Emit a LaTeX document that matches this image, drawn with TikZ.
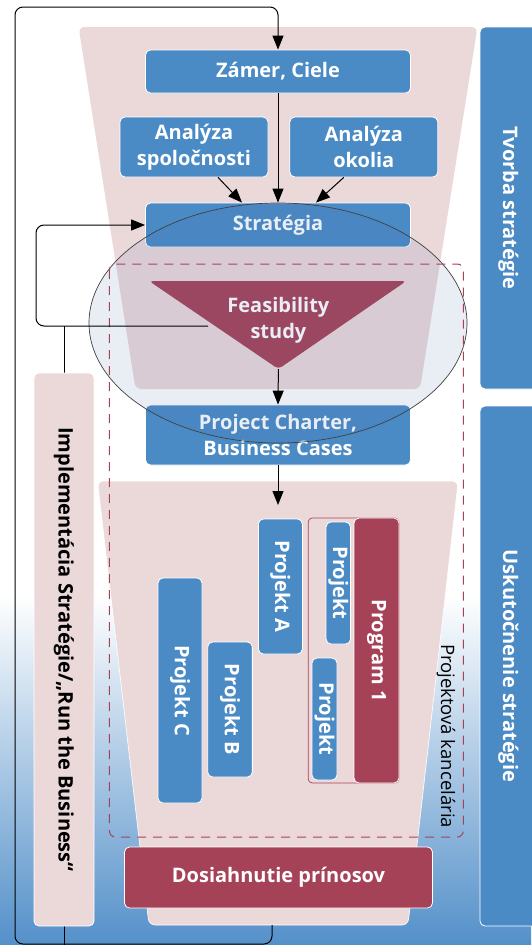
\documentclass[tikz,border=0pt]{standalone}
\usepackage{fontspec}
\setmainfont{Open Sans}
\usetikzlibrary{arrows.meta}
\definecolor{boxblue}{RGB}{74,139,198}
\definecolor{funnelpink}{RGB}{235,217,218}
\definecolor{progred}{RGB}{166,66,88}
\definecolor{bgblue}{RGB}{84,144,201}
\definecolor{ellfill}{RGB}{80,110,170}

\begin{document}
\begin{tikzpicture}[x=1pt,y=-1pt]
\tikzstyle{every node}+=[inner sep=0pt, align=center, font=\bfseries\fontsize{20}{26}\selectfont]
\tikzstyle{bluebox}=[rectangle, rounded corners=5pt, fill=boxblue, draw=white, line width=0.8pt, text=white]
\tikzstyle{redbox}=[bluebox, fill=progred]
\tikzstyle{conn}=[black, line width=1pt, rounded corners=8pt, -{Triangle[length=14pt,width=11pt]}]
\tikzstyle{loopline}=[black, line width=1pt, rounded corners=8pt]
\useasboundingbox (0,0) rectangle (531,945);
% background
\fill[white] (0,0) rectangle (531,945);
\shade[top color=white, bottom color=bgblue] (0,595) rectangle (531,945);
% funnels
\fill[funnelpink, rounded corners=6pt] (78.6,27) -- (477.5,27) -- (420,389) -- (135.5,389) -- cycle;
\fill[funnelpink, draw=white, line width=0.6pt, rounded corners=6pt] (97.5,481) -- (458.2,481) -- (408,925) -- (149,925) -- cycle;
\coordinate (funbot) at (272,925);
\coordinate (fsout) at (208,326);
\coordinate (fork) at (64,326);
\coordinate (apex) at (278.4,369);
% side bars
\draw[loopline] (fork) -- (64,950);
\node[bluebox, rotate=-90, minimum width=362, minimum height=57] (tvorba) at (508.5,208) {Tvorba stratégie};
\node[bluebox, rotate=-90, minimum width=520, minimum height=57] (uskut) at (508.5,666) {Uskutočnenie stratégie};
\node[bluebox, fill=funnelpink, text=black, rotate=-90, minimum width=553, minimum height=60] (impl) at (64,649.5) {Implementácia Stratégie/„Run the Business“};
% boxes
\node[bluebox, minimum width=265, minimum height=43] (zamer) at (278,71.5) {Zámer, Ciele};
\node[bluebox, minimum width=148, minimum height=60] (spol) at (194,147) {Analýza\\spoločnosti};
\node[bluebox, minimum width=148, minimum height=60] (okol) at (363.8,147) {Analýza\\okolia};
\node[bluebox, minimum width=265, minimum height=44] (strat) at (278,225) {Stratégia};
\fill[progred, rounded corners=4pt] (149,281) -- (406.4,281) -- (apex) -- cycle;
\node[text=white] (feas) at (278.4,320) {Feasibility\\study};
\node[bluebox, minimum width=265, minimum height=60] (charter) at (278,435) {Project Charter,\\Business Cases};
\draw[progred, line width=0.7pt, rounded corners=4pt] (308.2,518) rectangle (398.9,783);
\node[redbox, rotate=-90, minimum width=265, minimum height=45] (prog) at (376.5,650.5) {Program 1};
\node[bluebox, rotate=-90, minimum width=135, minimum height=44] (projA) at (280.4,586.5) {Projekt A};
\node[bluebox, rotate=-90, minimum width=122, minimum height=24.5] (projtop) at (338.3,583) {Projekt};
\node[bluebox, rotate=-90, minimum width=122, minimum height=25] (projbot) at (324.5,719) {Projekt};
\node[bluebox, rotate=-90, minimum width=225, minimum height=44] (projC) at (180,690.5) {Projekt C};
\node[bluebox, rotate=-90, minimum width=135, minimum height=44.7] (projB) at (230,709.5) {Projekt B};
\node[redbox, minimum width=308, minimum height=61] (dosiah) at (278.5,877.5) {Dosiahnutie prínosov};
% ellipse
\fill[ellfill, fill opacity=0.12] (278,323) ellipse [x radius=189, y radius=120];
\draw[black!75, line width=0.7pt] (278,323) ellipse [x radius=189, y radius=120];
% project office
\draw[progred, line width=1pt, dash pattern=on 9pt off 7pt, rounded corners=6pt] (109.4,264) rectangle (463.3,837);
\node[font=\fontsize{18.5}{20}\selectfont, rotate=-90] (kancel) at (446,736) {Projektová kancelária};
% connectors
\draw[conn] (funbot) -- (272,944) -- (15,944) -- (15,7) -- (278,7) -- (zamer.north);
\draw[conn] (zamer.south) -- (strat.north);
\draw[conn] ([xshift=24pt]spol.south) -- ([xshift=-36pt]strat.north);
\draw[conn] ([xshift=-20pt]okol.south) -- ([xshift=38pt]strat.north);
\draw[conn] (fsout) -- (36,326) -- (36,225) -- (strat.west);
\draw[conn] (apex) -- (charter.north);
\draw[conn] (charter.south) -- (278,505);
\end{tikzpicture}
\end{document}
